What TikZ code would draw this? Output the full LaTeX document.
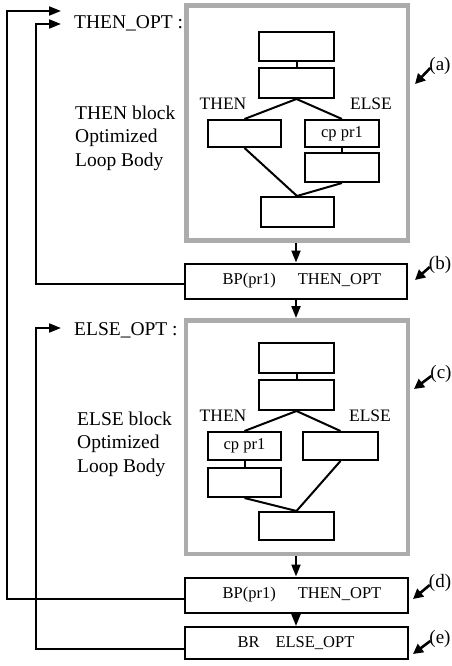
\documentclass[tikz,border=0pt]{standalone}
\usepackage{fontspec}
\setmainfont{Liberation Serif}
\usetikzlibrary{arrows.meta}
\begin{document}
\begin{tikzpicture}[x=1pt,y=-1pt,
  bx/.style={draw, line width=2pt, inner sep=0pt, minimum width=#1},
  bx/.default=75pt,
  dotbox/.style={draw=gray!65, line width=4.5pt, inner sep=0pt},
  ln/.style={line width=2pt},
  arr/.style={line width=2pt, -{Triangle[length=12pt,width=9pt]}},
  sarr/.style={line width=2.6pt, -{Triangle[length=10pt,width=10pt]}},
  big/.style={font=\fontsize{19.5}{23.5}\selectfont, inner sep=0pt},
  mid/.style={font=\fontsize{17.5}{20}\selectfont, inner sep=0pt},
  txt/.style={font=\fontsize{16.5}{19}\selectfont},
  lab/.style={font=\fontsize{19}{20}\selectfont, inner sep=0pt}
]
\useasboundingbox (0,0) rectangle (452,666);

% ---- block (a)
\node[dotbox, minimum width=221.5pt, minimum height=235pt] (da) at (297.25,123) {};
\node[bx, minimum height=29pt] (a1) at (296.5,46.5) {};
\node[bx, minimum height=30pt] (a2) at (296.5,83) {};
\node[bx=73pt, minimum height=27pt] (a3) at (244.5,133.5) {};
\node[bx=74pt, minimum height=27pt, txt] (a4) at (342,133.5) {cp pr1};
\node[bx=74pt, minimum height=29pt] (a5) at (342,167.5) {};
\node[bx=73pt, minimum height=30pt] (a6) at (297,212) {};
\draw[ln] (a1.south) -- (a2.north);
\draw[ln] (a2.south) -- (a3.north);
\draw[ln] (a2.south) -- (a4.north);
\draw[ln] (a4.south) -- (a5.north);
\draw[ln] (a3.south) -- (a6.north);
\draw[ln] (a5.south) -- (a6.north);
\node[mid] (athen) at (223,104) {THEN};
\node[mid] (aelse) at (371,104) {ELSE};

% ---- box (b)
\node[bx=222pt, minimum height=35pt, txt] (b) at (296,281) {\hspace{12pt}BP(pr1)\hspace{22pt}THEN\_OPT};

% ---- block (c)
\node[dotbox, minimum width=222pt, minimum height=233.5pt] (dc) at (297,437) {};
\node[bx, minimum height=30pt] (c1) at (296.5,358) {};
\node[bx, minimum height=30pt] (c2) at (296.5,395) {};
\node[bx=73pt, minimum height=28pt, txt] (c3) at (244.5,446) {cp pr1};
\node[bx=73pt, minimum height=29pt] (c4) at (244.5,482.5) {};
\node[bx=75pt, minimum height=28pt] (c5) at (340.5,446) {};
\node[bx, minimum height=28pt] (c6) at (296.5,526) {};
\draw[ln] (c1.south) -- (c2.north);
\draw[ln] (c2.south) -- (c3.north);
\draw[ln] (c2.south) -- (c5.north);
\draw[ln] (c3.south) -- (c4.north);
\draw[ln] (c4.south) -- (c6.north);
\draw[ln] (c5.south) -- (c6.north);
\node[mid] (cthen) at (223,416) {THEN};
\node[mid] (celse) at (370,416) {ELSE};

% ---- boxes (d), (e)
\node[bx=223pt, minimum height=35pt, txt] (d) at (296,595) {\hspace{12pt}BP(pr1)\hspace{22pt}THEN\_OPT};
\node[bx=223pt, minimum height=32pt, txt] (e) at (296,643) {BR\hspace{16pt}ELSE\_OPT\hspace{26pt}};

% ---- vertical arrows
\draw[arr] (da.south -| b.north) -- (b.north);
\draw[arr] (b.south) -- (b.south |- dc.north);
\draw[arr] (dc.south -| d.north) -- (d.north);
\draw[arr] (d.south) -- (e.north);

% ---- left labels
\node[big, anchor=west] (thenopt) at (74,23) {THEN\_OPT :};
\node[big, anchor=west] (elseopt) at (74,330) {ELSE\_OPT :};
\node[big, anchor=west, align=left] (thenblk) at (75,138) {THEN block\\Optimized\\Loop Body};
\node[big, anchor=west, align=left] (elseblk) at (77,444) {ELSE block\\Optimized\\Loop Body};

% ---- left branch connectors
\coordinate (k1) at (7,11);   \coordinate (t1) at (61,11);
\coordinate (k2) at (36,24);  \coordinate (t2) at (61,24);
\coordinate (k3) at (36,328); \coordinate (t3) at (61,328);
\draw[arr] ([yshift=-4pt]d.west) -| (k1) -- (t1);
\draw[arr] ([yshift=-3pt]b.west) -| (k2) -- (t2);
\draw[arr] ([yshift=-6pt]e.west) -| (k3) -- (t3);

% ---- side labels
\node[lab] (la) at (440,66) {(a)};
\node[lab] (lb) at (440,265) {(b)};
\node[lab] (lc) at (441,374) {(c)};
\node[lab] (ld) at (440,583) {(d)};
\node[lab] (le) at (440,639) {(e)};
\coordinate (pa) at (415,84);
\coordinate (pb) at (415,280);
\coordinate (pc) at (414,389);
\coordinate (pd) at (413,599);
\coordinate (pe) at (413,654);
\draw[sarr] ([xshift=1pt,yshift=-2pt]la.west) -- (pa);
\draw[sarr] ([xshift=1pt,yshift=-2pt]lb.west) -- (pb);
\draw[sarr] ([xshift=1pt,yshift=-2pt]lc.west) -- (pc);
\draw[sarr] ([xshift=1pt,yshift=-2pt]ld.west) -- (pd);
\draw[sarr] ([xshift=1pt,yshift=-2pt]le.west) -- (pe);
\end{tikzpicture}
\end{document}
